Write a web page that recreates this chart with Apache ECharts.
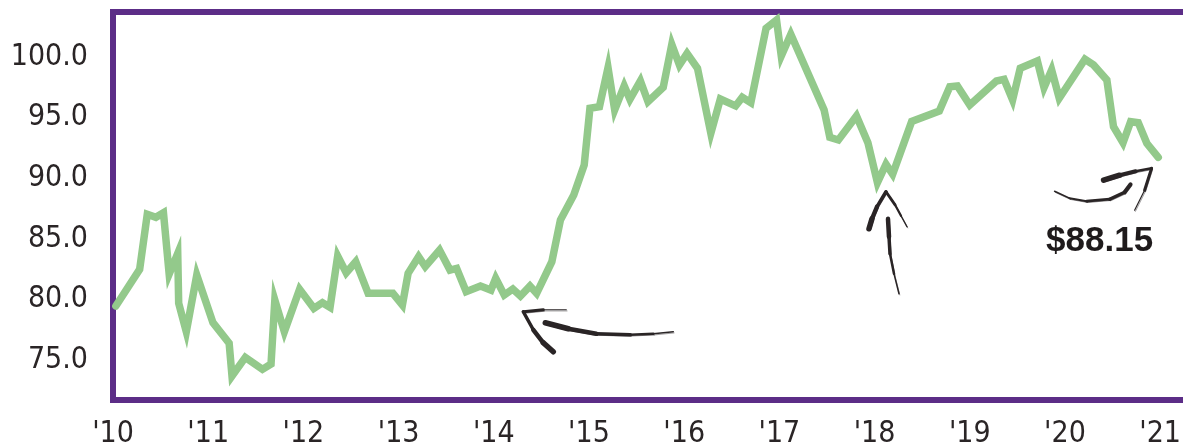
<!DOCTYPE html>
<html>
<head>
<meta charset="utf-8">
<script src="https://cdn.jsdelivr.net/npm/echarts@6/dist/echarts.min.js"></script>
<style>
  html, body { margin: 0; padding: 0; background: #ffffff; }
  #chart { width: 1183px; height: 446px; }
</style>
</head>
<body>
<div id="chart"></div>
<script>
// Price history, decimal years vs. price
const years = [
  2010.03, 2010.28, 2010.36, 2010.45, 2010.53, 2010.59, 2010.68, 2010.69, 2010.77, 2010.88,
  2011.05, 2011.22, 2011.25, 2011.39, 2011.57, 2011.66, 2011.70, 2011.80, 2011.96,
  2012.11, 2012.20, 2012.28, 2012.36, 2012.45, 2012.55, 2012.68, 2012.94,
  2013.04, 2013.10, 2013.21, 2013.28, 2013.43, 2013.54, 2013.61, 2013.71, 2013.86, 2013.97,
  2014.02, 2014.11, 2014.20, 2014.28, 2014.38, 2014.45, 2014.61, 2014.70, 2014.84, 2014.95,
  2015.01, 2015.11, 2015.20, 2015.27, 2015.37, 2015.43, 2015.54, 2015.62, 2015.78, 2015.87, 2015.95,
  2016.03, 2016.14, 2016.28, 2016.38, 2016.54, 2016.61, 2016.70, 2016.86, 2016.97,
  2017.02, 2017.12, 2017.47, 2017.53, 2017.62, 2017.81, 2017.93,
  2018.03, 2018.12, 2018.19, 2018.39, 2018.68, 2018.79, 2018.87,
  2019.00, 2019.28, 2019.36, 2019.45, 2019.53, 2019.71, 2019.78, 2019.86, 2019.94,
  2020.21, 2020.30, 2020.44, 2020.51, 2020.61, 2020.69, 2020.77, 2020.86, 2020.98
];
const prices = [
  79.08, 82.11, 86.65, 86.40, 86.78, 81.72, 83.43, 79.31, 76.96, 81.64,
  77.71, 76.01, 73.31, 74.85, 73.86, 74.30, 79.58, 76.96, 80.46,
  78.89, 79.36, 78.98, 83.21, 81.83, 82.74, 80.13, 80.13,
  79.17, 81.78, 83.15, 82.33, 83.70, 82.05, 82.19, 80.26, 80.73, 80.40,
  81.37, 79.99, 80.49, 79.91, 80.73, 80.13, 82.74, 86.18, 88.24, 90.72,
  95.40, 95.53, 98.75, 95.26, 97.24, 96.14, 97.65, 95.94, 97.13, 100.66, 98.97,
  99.93, 98.70, 93.33, 96.16, 95.59, 96.30, 95.86, 102.00, 102.68,
  99.71, 101.50, 95.26, 93.00, 92.78, 94.76, 92.56,
  89.26, 90.78, 89.95, 94.31, 95.17, 97.18, 97.24,
  95.67, 97.65, 97.79, 96.08, 98.70, 99.30, 97.10, 98.56, 96.22,
  99.44, 98.97, 97.73, 93.88, 92.56, 94.29, 94.21, 92.51, 91.35
];
const yTicks = [75, 80, 85, 90, 95, 100];
const xTicks = [2010, 2011, 2012, 2013, 2014, 2015, 2016, 2017, 2018, 2019, 2020, 2021];
const priceNote = '$88.15';

const INK = '#2a2526';
const PURPLE = '#5c2d87';
const GREEN = '#93c98b';
const AXIS_FONT = '"DejaVu Sans Condensed", "DejaVu Sans", sans-serif';

const chart = echarts.init(document.getElementById('chart'), null, { renderer: 'canvas' });

chart.setOption({
  animation: false,
  backgroundColor: '#ffffff',
  // the plot frame runs past the right edge of the page, so only three sides show
  grid: {
    show: true,
    outerBoundsMode: 'none',
    containLabel: false,
    left: 113, top: 12, width: 1080, bottom: 46,
    borderColor: PURPLE, borderWidth: 6,
    backgroundColor: 'transparent'
  },
  xAxis: {
    type: 'value',
    min: 2010, max: 2021.345,
    axisLine: { show: false },
    axisTick: { show: false },
    splitLine: { show: false },
    axisLabel: {
      customValues: xTicks,
      formatter: v => "'" + String(Math.round(v)).slice(2),
      color: INK, fontSize: 30, fontFamily: AXIS_FONT, margin: 19
    }
  },
  yAxis: {
    type: 'value',
    min: 71.33, max: 103.34,
    axisLine: { show: false },
    axisTick: { show: false },
    splitLine: { show: false },
    axisLabel: {
      customValues: yTicks,
      formatter: v => '{v|' + v.toFixed(1) + '}',
      margin: 25,
      rich: {
        v: { color: INK, fontSize: 30, fontFamily: AXIS_FONT, padding: [9, 0, 0, 0] }
      }
    }
  },
  series: [{
    type: 'line',
    data: years.map((t, i) => [t, prices[i]]),
    symbol: 'none',
    lineStyle: { color: GREEN, width: 7.5, join: 'miter', cap: 'round' },
    z: 3
  }]
});

// Hand-drawn style strokes: tapered segments plus a faint offset pass for texture
function brush(origin, pts, w0, w1) {
  const out = [];
  const n = pts.length - 1;
  for (let i = 0; i < n; i++) {
    const w = w0 + (w1 - w0) * (n > 1 ? i / (n - 1) : 0);
    const a = pts[i], b = pts[i + 1];
    out.push({
      type: 'line', z: 10, silent: true,
      shape: { x1: origin[0] + a[0], y1: origin[1] + a[1], x2: origin[0] + b[0], y2: origin[1] + b[1] },
      style: { stroke: INK, lineWidth: w, lineCap: 'round' }
    });
    out.push({
      type: 'line', z: 10, silent: true,
      shape: { x1: origin[0] + a[0] + 0.8, y1: origin[1] + a[1] + 1.2, x2: origin[0] + b[0] + 0.8, y2: origin[1] + b[1] + 1.2 },
      style: { stroke: INK, lineWidth: Math.max(0.8, w * 0.45), lineCap: 'round', opacity: 0.55 }
    });
  }
  return out;
}

function drawNotes() {
  const tip1 = chart.convertToPixel({ gridIndex: 0 }, [2014.31, 78.61]);
  const tip2 = chart.convertToPixel({ gridIndex: 0 }, [2018.12, 88.51]);
  const tip3 = chart.convertToPixel({ gridIndex: 0 }, [2020.91, 90.45]);

  const g = [];
  // arrow pointing at the 2014 low
  g.push(...brush(tip1, [[22, 11], [45, 17], [73, 22], [107, 23], [130, 22], [150, 20]], 5.5, 1.5));
  g.push(...brush(tip1, [[0, 0], [20, -2], [43, -2]], 3, 1.2));
  g.push(...brush(tip1, [[0, 0], [10, 18], [20, 31], [30, 40]], 3.5, 5.5));
  // arrow pointing at the 2018 dip
  g.push(...brush(tip2, [[2, 27], [3, 45], [4, 62], [8, 82], [13, 102]], 4.5, 1.5));
  g.push(...brush(tip2, [[0, 0], [-9, 15], [-14, 27], [-17, 37]], 3.5, 5.5));
  g.push(...brush(tip2, [[0, 0], [9, 13], [15, 24], [21, 35]], 3, 1.5));
  // curved arrow pointing at the latest price
  g.push(...brush(tip3, [[-97, 23], [-82, 30], [-65, 33], [-42, 31], [-27, 24], [-21, 16]], 1.5, 4));
  g.push(...brush(tip3, [[-48, 12], [-32, 7], [-16, 3], [0, 0]], 5.5, 2.5));
  g.push(...brush(tip3, [[0, 0], [-7, 22], [-17, 42]], 3, 1.2));

  g.push({
    type: 'text', z: 10, silent: true,
    x: tip3[0] - 52, y: tip3[1] + 73,
    style: {
      text: priceNote, fill: '#1f1b1c',
      font: 'bold 35px "Liberation Sans", Arial, sans-serif',
      textAlign: 'center', textVerticalAlign: 'middle'
    }
  });
  chart.setOption({ graphic: g });
}
drawNotes();
</script>
</body>
</html>
